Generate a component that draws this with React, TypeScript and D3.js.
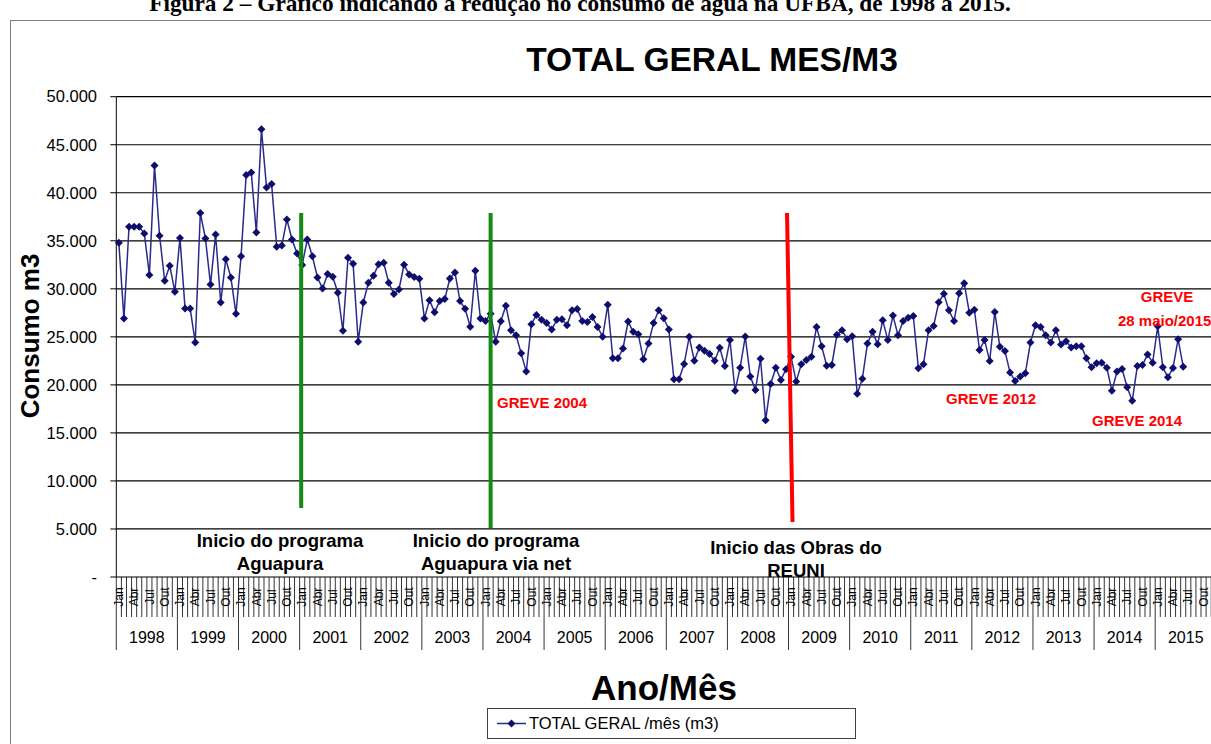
import * as d3 from 'd3'

// consumo mensal (m3), jan/1998 a jun/2015
const consumo = [
  34800, 26900, 36460, 36460, 36460, 35760, 31430, 42840, 35520, 30840, 32400, 29700,
  35280, 27960, 27960, 24420, 37900, 35240, 30450, 35660, 28580, 33090, 31180, 27400,
  33400, 41840, 42110, 35870, 46620, 40550, 40900, 34380, 34510, 37220, 35140, 33680,
  32470, 35140, 33400, 31180, 30040, 31530, 31250, 29590, 25630, 33230, 32610, 24490,
  28580, 30630, 31360, 32570, 32710, 30630, 29450, 29930, 32500, 31500, 31220, 31040,
  26920, 28820, 27570, 28720, 28930, 31080, 31700, 28720, 27920, 26050, 31880, 26900,
  26650, 27410, 24480, 26620, 28240, 25690, 25170, 23280, 21380, 26310, 27280, 26790,
  26450, 25760, 26790, 26830, 26210, 27760, 27900, 26650, 26550, 27070, 26030, 25000,
  28340, 22760, 22760, 23790, 26590, 25520, 25280, 22660, 24310, 26450, 27760, 26930,
  25760, 20590, 20590, 22170, 25000, 22520, 23900, 23550, 23210, 22520, 23860, 21970,
  24660, 19380, 21790, 25030, 20860, 19480, 22720, 16310, 20100, 21790, 20520, 21620,
  22930, 20340, 22140, 22590, 22930, 26030, 24030, 22000, 22070, 25210, 25690, 24760,
  25070, 19070, 20650, 24310, 25520, 24240, 26720, 24660, 27210, 25170, 26650, 27000,
  27170, 21720, 22140, 25690, 26140, 28590, 29480, 27760, 26650, 29550, 30590, 27520,
  27830, 23620, 24660, 22480, 27590, 23970, 23520, 21280, 20410, 20860, 21210, 24410,
  26210, 26030, 25170, 24410, 25690, 24210, 24550, 23900, 24030, 24030, 22760, 21830,
  22240, 22310, 21790, 19380, 21380, 21650, 19760, 18350, 21970, 22070, 23170, 22310,
  26100, 21830, 20790, 21760, 24760, 21900,
]

const anos = d3.range(1998, 2016).map(String)
const meses = ['Jan', '', '', 'Abr', '', '', 'Jul', '', '', 'Out', '', '']
const yTicks = d3.range(0, 50001, 5000)

const W = 1211
const H = 744
const FONT = 'Liberation Sans, Arial, sans-serif'

const fmt = d3.formatLocale({ decimal: ',', thousands: '.', grouping: [3], currency: ['R$', ''] }).format(',d')

export default function App() {
  const nCat = anos.length * 12
  const x = d3.scaleBand<number>().domain(d3.range(nCat)).range([116.3, 1216.3])
  const bw = x.bandwidth()
  const cx = (i: number) => (x(i) ?? 0) + bw / 2
  const y = d3.scaleLinear().domain([0, 50000]).range([577, 96.7])

  const line = d3
    .line<number>()
    .x((_, i) => cx(i))
    .y((d) => y(d))

  const r = 4
  const diamond = `M0,${-r}L${r},0L0,${r}L${-r},0Z`

  const x0 = x.range()[0]
  const axisY = y(0)

  // linhas verticais de marcação (eventos)
  const green1 = cx(36) - 1
  const green2 = cx(73)
  const redTop = (x(132) ?? 0) - 1.5
  const redBot = redTop + 5.5

  return (
    <svg
      width={W}
      height={H}
      style={{ position: 'absolute', left: 0, top: 0, background: '#fff' }}
      fontFamily={FONT}
    >
      <rect x={0} y={0} width={W} height={H} fill="#fff" />
      <text
        x={580}
        y={11}
        textAnchor="middle"
        fontFamily="Liberation Serif, Times New Roman, serif"
        fontWeight="bold"
        fontSize={23.3}
      >
        Figura 2 – Gráfico indicando a redução no consumo de água na UFBA, de 1998 a 2015.
      </text>

      {/* moldura do gráfico */}
      <rect x={10.5} y={20.5} width={1260} height={760} fill="none" stroke="#7f7f7f" />

      <text x={712} y={71} textAnchor="middle" fontWeight="bold" fontSize={33.5}>
        TOTAL GERAL MES/M3
      </text>

      {/* grade e eixo y */}
      {yTicks.map((t) => (
        <g key={t}>
          {t > 0 && <line x1={x0} x2={1216} y1={y(t)} y2={y(t)} stroke="#000" strokeWidth={1.2} />}
          <line x1={x0 - 6} x2={x0} y1={y(t)} y2={y(t)} stroke="#000" />
          <text x={97} y={y(t)} dy="0.35em" textAnchor="end" fontSize={16.5} fill="#000">
            {t === 0 ? '-' : fmt(t)}
          </text>
        </g>
      ))}
      <line x1={x0} x2={x0} y1={y(50000)} y2={axisY} stroke="#000" />
      <line x1={x0} x2={1216} y1={axisY} y2={axisY} stroke="#000" />

      <text
        transform={`translate(39,336) rotate(-90)`}
        textAnchor="middle"
        fontWeight="bold"
        fontSize={26}
      >
        Consumo m3
      </text>

      {/* eixo x: meses e anos */}
      {d3.range(nCat + 1).map((i) => {
        const xx = i < nCat ? x(i) ?? 0 : x.range()[1]
        const isYear = i % 12 === 0
        return (
          <line
            key={'t' + i}
            x1={xx}
            x2={xx}
            y1={axisY}
            y2={isYear ? 650 : 617}
            stroke="#000"
            strokeWidth={0.8}
          />
        )
      })}
      {d3.range(nCat).map((i) =>
        meses[i % 12] ? (
          <text
            key={'m' + i}
            transform={`translate(${cx(i)},597) rotate(-90)`}
            textAnchor="middle"
            dy="0.35em"
            fontSize={12}
          >
            {meses[i % 12]}
          </text>
        ) : null,
      )}
      {anos.map((a, k) => (
        <text key={a} x={cx(k * 12) + bw * 5.5} y={643} textAnchor="middle" fontSize={16}>
          {a}
        </text>
      ))}

      <text x={664} y={700} textAnchor="middle" fontWeight="bold" fontSize={35}>
        Ano/Mês
      </text>

      {/* série */}
      <path d={line(consumo) ?? ''} fill="none" stroke="#2a2a8c" strokeWidth={1.5} />
      {consumo.map((v, i) => (
        <path key={'p' + i} d={diamond} transform={`translate(${cx(i)},${y(v)})`} fill="#0d0d6e" />
      ))}

      {/* marcos */}
      <line x1={green1} x2={green1} y1={213} y2={508} stroke="#138a13" strokeWidth={4} />
      <line x1={green2} x2={green2} y1={213} y2={528} stroke="#138a13" strokeWidth={4} />
      <line x1={redTop} x2={redBot} y1={213} y2={522} stroke="#ff0000" strokeWidth={4} />

      <g fontWeight="bold" fontSize={18.5} textAnchor="middle" fill="#000">
        <text x={280} y={547}>Inicio do programa</text>
        <text x={280} y={570}>Aguapura</text>
        <text x={496} y={547}>Inicio do programa</text>
        <text x={496} y={570}>Aguapura via net</text>
        <text x={796} y={554}>Inicio das Obras do</text>
        <text x={796} y={577}>REUNI</text>
      </g>

      <g fontWeight="bold" fontSize={15} fill="#ff0000">
        <text x={497} y={408}>GREVE 2004</text>
        <text x={946} y={404}>GREVE 2012</text>
        <text x={1092} y={426}>GREVE 2014</text>
        <text x={1167} y={302} textAnchor="middle">GREVE</text>
        <text x={1118} y={326}>28 maio/2015</text>
      </g>

      {/* legenda */}
      <rect x={487.5} y={708.5} width={368} height={30} fill="#fff" stroke="#404040" />
      <line x1={497} x2={526} y1={723.5} y2={723.5} stroke="#2a2a8c" strokeWidth={1.5} />
      <path d={diamond} transform="translate(511.5,723.5)" fill="#0d0d6e" />
      <text x={529} y={723.5} dy="0.35em" fontSize={16.5}>
        TOTAL GERAL /mês (m3)
      </text>
    </svg>
  )
}
